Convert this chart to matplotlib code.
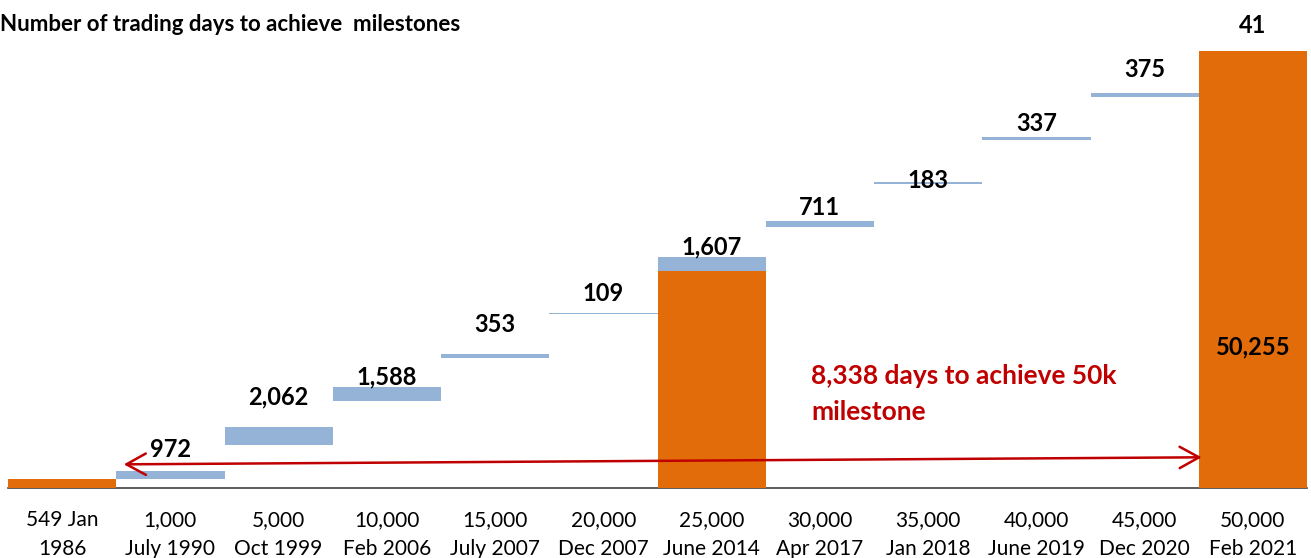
import matplotlib.pyplot as plt

plt.rcParams["font.family"] = ["Lato", "DejaVu Sans"]

# Sensex milestones (category labels, two lines each)
milestones = ["549 Jan\n1986", "1,000\nJuly 1990", "5,000\nOct 1999", "10,000\nFeb 2006",
              "15,000\nJuly 2007", "20,000\nDec 2007", "25,000\nJune 2014", "30,000\nApr 2017",
              "35,000\nJan 2018", "40,000\nJune 2019", "45,000\nDec 2020", "50,000\nFeb 2021"]

# index level where each floating bar starts
levels = [0, 1000, 5000, 10000, 15000, 20000, 25000, 30000, 35000, 40000, 45000, 50000]

# trading days taken to reach the milestone (first column has none)
days = [0, 972, 2062, 1588, 353, 109, 1607, 711, 183, 337, 375, 41]

# full-height orange columns
orange_idx = [0, 6, 11]
orange_vals = [1000, 25000, 50255]

total_days = 8338

# layout: vertical gap (px) between each blue bar top and its label
label_gap_px = [0, 21, 30, 10, 30, 20, 10, 13, 2, 14, 24, 25]

ORANGE = "#E36C0A"
BLUE = "#95B3D7"
RED = "#C00000"

fig = plt.figure(figsize=(13.11, 5.58), dpi=100)
ax = fig.add_axes([8 / 1311, 70 / 558, 1299 / 1311, 478.3 / 558])

x = list(range(len(milestones)))

# floating blue bars: start at the milestone level, height = trading days
for i in x[1:]:
    ax.bar(i, days[i], bottom=levels[i], width=1.0, color=BLUE, zorder=2)

ax.bar(orange_idx, orange_vals, width=1.0, color=ORANGE, zorder=3)

# trading-day labels above the blue bars
for i in x[1:]:
    top = levels[i] + days[i]
    if i == 11:
        top = orange_vals[-1]
    ax.annotate(f"{days[i]:,}", (i, top), xytext=(0, label_gap_px[i] * 0.72),
                textcoords="offset points", ha="center", va="center",
                fontsize=17, fontweight="bold", color="black", zorder=5)

# value inside the last bar
ax.annotate(f"{orange_vals[-1]:,}", (11, orange_vals[-1]), xytext=(0, -296 * 0.72),
            textcoords="offset points", ha="center", va="center",
            fontsize=17, fontweight="bold", color="black", zorder=5)

# double arrow spanning the whole journey
ax.annotate("", xy=(10.527, 3530), xytext=(0.57, 2720),
            arrowprops=dict(arrowstyle="<->,head_length=1.0,head_width=0.55",
                            mutation_scale=14, color=RED, lw=1.8,
                            shrinkA=0, shrinkB=0), zorder=6)
ax.text(6.92, 10800, f"{total_days:,} days to achieve 50k\nmilestone", color=RED,
        fontsize=19, fontweight="bold", ha="left", va="center", linespacing=1.6)

ax.set_xlim(-0.5, 11.5)
ax.set_ylim(0, 55000)
ax.set_xticks(x)
ax.set_xticklabels(milestones, fontsize=15, linespacing=1.55)
ax.tick_params(axis="x", length=0, pad=16)
ax.set_yticks([])
for side in ["top", "right", "left"]:
    ax.spines[side].set_visible(False)
ax.spines["bottom"].set_color("#404040")
ax.spines["bottom"].set_linewidth(1.2)

fig.text(0, 1 - 31 / 558, "Number of trading days to achieve  milestones",
         fontsize=16, fontweight="bold", ha="left", va="baseline")

fig.savefig("out.png", dpi=100)
